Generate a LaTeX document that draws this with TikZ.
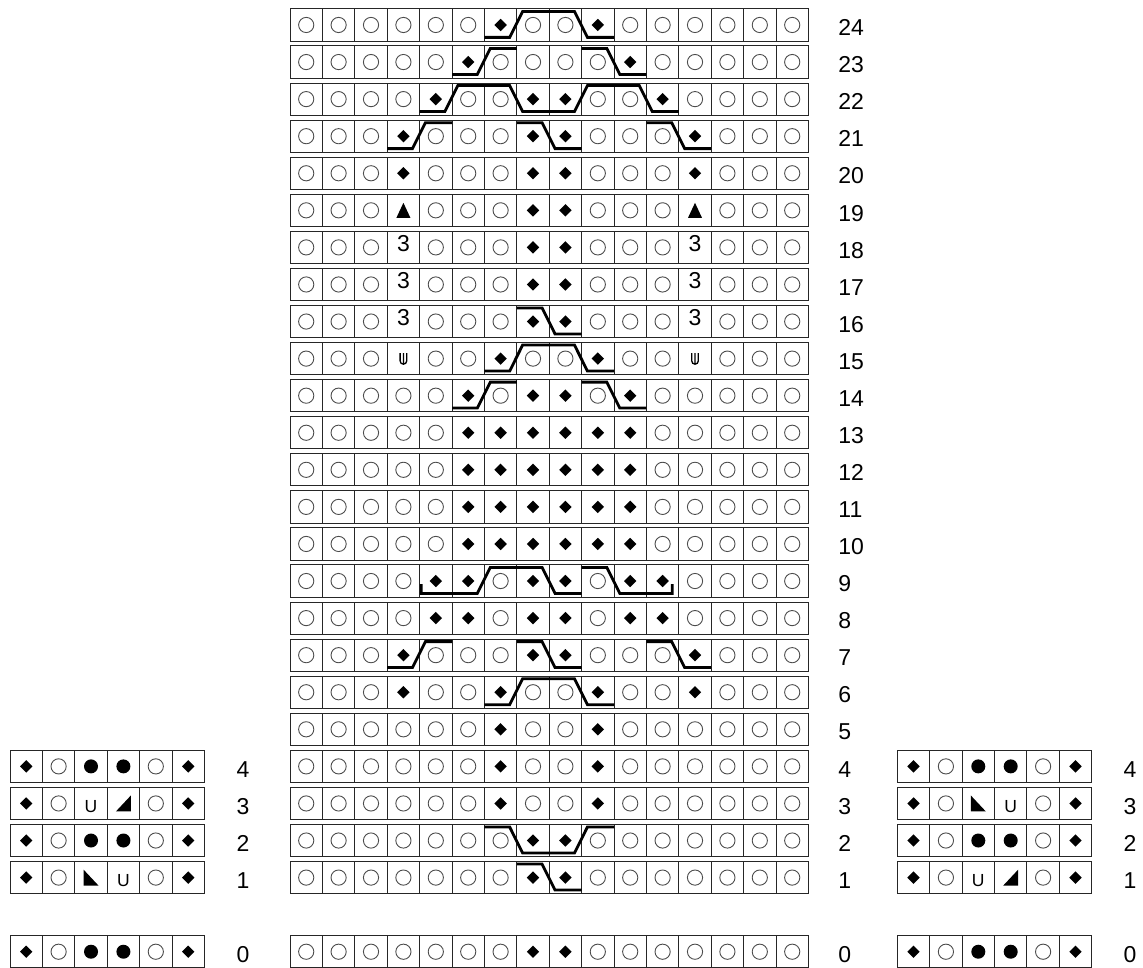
\documentclass[tikz,border=0pt]{standalone}
\usepackage{fontspec}
\setmainfont{Liberation Sans}
\usepackage{tikz}
\usetikzlibrary{positioning}

% cable levels inside a row
\newcommand{\cablo}{0.1}
\newcommand{\cabhi}{0.8}
\newcommand{\cabtick}{0.35}
\newcommand{\cabup}[1]{-- (#1-0.22,\cablo) -- (#1+0.18,\cabhi)}
\newcommand{\cabdn}[1]{-- (#1-0.22,\cabhi) -- (#1+0.18,\cablo)}

% one row of cells: name, x of left edge, y of row, symbols
\newcommand{\chartrow}[4]{%
  \foreach \s [count=\col] in {#4} {
    \draw[cellbox] (#2+\col-1,#3) rectangle ++(1,0.87);
    \pic (#1-\col) at (#2+\col-0.5,#3+0.435) {sym \s};
  }}

\tikzset{
  pics/sym o/.style={code={\draw[draw=black!70, line width=0.9pt] (0,0) circle (7.6pt);}},
  pics/sym d/.style={code={\fill (0,6.2pt) -- (6.2pt,0) -- (0,-6.2pt) -- (-6.2pt,0) -- cycle;}},
  pics/sym b/.style={code={\fill (0,0) circle (7pt);}},
  pics/sym t/.style={code={\fill (-7pt,-7.5pt) -- (7pt,-7.5pt) -- (0,7.5pt) -- cycle;}},
  pics/sym L/.style={code={\fill (-7.5pt,-8pt) -- (7.5pt,-8pt) -- (-7.5pt,8pt) -- cycle;}},
  pics/sym R/.style={code={\fill (-7.5pt,-8pt) -- (7.5pt,-8pt) -- (7.5pt,8pt) -- cycle;}},
  pics/sym 3/.style={code={\node[inner sep=0pt, font=\fontsize{23}{23}\selectfont] (-t) at (0,4pt) {3};}},
  pics/sym u/.style={code={\node[inner sep=0pt, font=\fontsize{17.5}{17.5}\selectfont] (-t) at (0,-3pt) {U};}},
  pics/sym w/.style={code={\draw[line width=1.3pt] (-3.3pt,5.5pt) -- (-3.3pt,-2.3pt) arc[start angle=180, end angle=360, radius=3.3pt] -- (3.3pt,5.5pt) (0,5.5pt) -- (0,-5.6pt);}},
}

\begin{document}
\begin{tikzpicture}[
    x=32.4pt, y=37.07pt,
    cellbox/.style={draw=black!85, line width=0.9pt},
    cable/.style={line width=2.8pt, line join=miter},
    rowlabel/.style={anchor=west, inner sep=0pt, font=\fontsize{23}{23}\selectfont},
    sidelabel/.style={inner sep=0pt, font=\fontsize{23}{23}\selectfont}
]
\useasboundingbox (-8.951,-0.977) rectangle (26.327,25.109);

% main chart
\chartrow{m24}{0}{24}{o,o,o,o,o,o,d,o,o,d,o,o,o,o,o,o}
\chartrow{m23}{0}{23}{o,o,o,o,o,d,o,o,o,o,d,o,o,o,o,o}
\chartrow{m22}{0}{22}{o,o,o,o,d,o,o,d,d,o,o,d,o,o,o,o}
\chartrow{m21}{0}{21}{o,o,o,d,o,o,o,d,d,o,o,o,d,o,o,o}
\chartrow{m20}{0}{20}{o,o,o,d,o,o,o,d,d,o,o,o,d,o,o,o}
\chartrow{m19}{0}{19}{o,o,o,t,o,o,o,d,d,o,o,o,t,o,o,o}
\chartrow{m18}{0}{18}{o,o,o,3,o,o,o,d,d,o,o,o,3,o,o,o}
\chartrow{m17}{0}{17}{o,o,o,3,o,o,o,d,d,o,o,o,3,o,o,o}
\chartrow{m16}{0}{16}{o,o,o,3,o,o,o,d,d,o,o,o,3,o,o,o}
\chartrow{m15}{0}{15}{o,o,o,w,o,o,d,o,o,d,o,o,w,o,o,o}
\chartrow{m14}{0}{14}{o,o,o,o,o,d,o,d,d,o,d,o,o,o,o,o}
\chartrow{m13}{0}{13}{o,o,o,o,o,d,d,d,d,d,d,o,o,o,o,o}
\chartrow{m12}{0}{12}{o,o,o,o,o,d,d,d,d,d,d,o,o,o,o,o}
\chartrow{m11}{0}{11}{o,o,o,o,o,d,d,d,d,d,d,o,o,o,o,o}
\chartrow{m10}{0}{10}{o,o,o,o,o,d,d,d,d,d,d,o,o,o,o,o}
\chartrow{m9}{0}{9}{o,o,o,o,d,d,o,d,d,o,d,d,o,o,o,o}
\chartrow{m8}{0}{8}{o,o,o,o,d,d,o,d,d,o,d,d,o,o,o,o}
\chartrow{m7}{0}{7}{o,o,o,d,o,o,o,d,d,o,o,o,d,o,o,o}
\chartrow{m6}{0}{6}{o,o,o,d,o,o,d,o,o,d,o,o,d,o,o,o}
\chartrow{m5}{0}{5}{o,o,o,o,o,o,d,o,o,d,o,o,o,o,o,o}
\chartrow{m4}{0}{4}{o,o,o,o,o,o,d,o,o,d,o,o,o,o,o,o}
\chartrow{m3}{0}{3}{o,o,o,o,o,o,d,o,o,d,o,o,o,o,o,o}
\chartrow{m2}{0}{2}{o,o,o,o,o,o,o,d,d,o,o,o,o,o,o,o}
\chartrow{m1}{0}{1}{o,o,o,o,o,o,o,d,d,o,o,o,o,o,o,o}
\chartrow{m0}{0}{-1}{o,o,o,o,o,o,o,d,d,o,o,o,o,o,o,o}

% cables
\draw[cable, shift={(0,24)}] (6,\cablo) \cabup{7} \cabdn{9} -- (10,\cablo);
\draw[cable, shift={(0,23)}] (5,\cablo) \cabup{6} -- (7,\cabhi);
\draw[cable, shift={(0,23)}] (9,\cabhi) \cabdn{10} -- (11,\cablo);
\draw[cable, shift={(0,22)}] (4,\cablo) \cabup{5} \cabdn{7} \cabup{9} \cabdn{11} -- (12,\cablo);
\draw[cable, shift={(0,21)}] (3,\cablo) \cabup{4} -- (5,\cabhi);
\draw[cable, shift={(0,21)}] (7,\cabhi) \cabdn{8} -- (9,\cablo);
\draw[cable, shift={(0,21)}] (11,\cabhi) \cabdn{12} -- (13,\cablo);
\draw[cable, shift={(0,16)}] (7,\cabhi) \cabdn{8} -- (9,\cablo);
\draw[cable, shift={(0,15)}] (6,\cablo) \cabup{7} \cabdn{9} -- (10,\cablo);
\draw[cable, shift={(0,14)}] (5,\cablo) \cabup{6} -- (7,\cabhi);
\draw[cable, shift={(0,14)}] (9,\cabhi) \cabdn{10} -- (11,\cablo);
\draw[cable, shift={(0,9)}] (4.05,\cabtick) -- (4.05,\cablo) \cabup{6} \cabdn{8} -- (9,\cablo);
\draw[cable, shift={(0,9)}] (9,\cabhi) \cabdn{10} -- (11.8,\cablo) -- (11.8,\cabtick);
\draw[cable, shift={(0,7)}] (3,\cablo) \cabup{4} -- (5,\cabhi);
\draw[cable, shift={(0,7)}] (7,\cabhi) \cabdn{8} -- (9,\cablo);
\draw[cable, shift={(0,7)}] (11,\cabhi) \cabdn{12} -- (13,\cablo);
\draw[cable, shift={(0,6)}] (6,\cablo) \cabup{7} \cabdn{9} -- (10,\cablo);
\draw[cable, shift={(0,2)}] (6,\cabhi) \cabdn{7} \cabup{9} -- (10,\cabhi);
\draw[cable, shift={(0,1)}] (7,\cabhi) \cabdn{8} -- (9,\cablo);

% left chart
\chartrow{l4}{-8.642}{4}{d,o,b,b,o,d}
\chartrow{l3}{-8.642}{3}{d,o,u,R,o,d}
\chartrow{l2}{-8.642}{2}{d,o,b,b,o,d}
\chartrow{l1}{-8.642}{1}{d,o,L,u,o,d}
\chartrow{l0}{-8.642}{-1}{d,o,b,b,o,d}

% right chart
\chartrow{r4}{18.744}{4}{d,o,b,b,o,d}
\chartrow{r3}{18.744}{3}{d,o,L,u,o,d}
\chartrow{r2}{18.744}{2}{d,o,b,b,o,d}
\chartrow{r1}{18.744}{1}{d,o,u,R,o,d}
\chartrow{r0}{18.744}{-1}{d,o,b,b,o,d}

% row numbers
\foreach \r in {1,...,24}
  \node[rowlabel] (lbl\r) at (16.92,\r+0.36) {\r};
\node[rowlabel] (lbl0) at (16.92,-0.64) {0};
\foreach \r in {1,...,4} {
  \node[sidelabel] (llbl\r) at (-1.45,\r+0.36) {\r};
  \node[sidelabel] (rlbl\r) at (25.93,\r+0.36) {\r};
}
\node[sidelabel] (llbl0) at (-1.45,-0.64) {0};
\node[sidelabel] (rlbl0) at (25.93,-0.64) {0};
\end{tikzpicture}
\end{document}
